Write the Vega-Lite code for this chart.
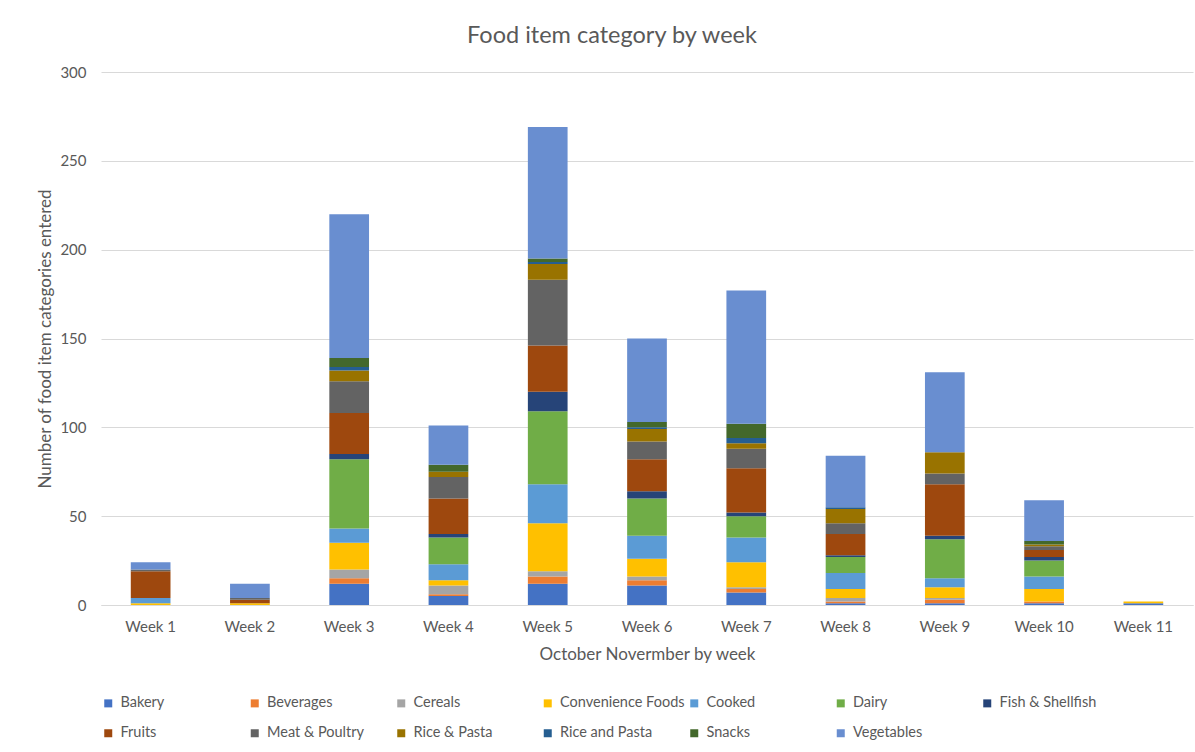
{
  "$schema": "https://vega.github.io/schema/vega-lite/v6.json",
  "autosize": {"type": "none"},
  "width": 1092,
  "height": 533,
  "padding": {"left": 101, "top": 72, "right": 2, "bottom": 147},
  "background": "white",
  "title": {
    "text": "Food item category by week",
    "font": "Lato",
    "fontSize": 23.5,
    "fontWeight": "normal",
    "color": "#595959",
    "anchor": "middle",
    "dx": -35,
    "offset": 18
  },
  "data": {
    "values": [
      {"week": "Week 1", "category": "Convenience Foods", "count": 1},
      {"week": "Week 1", "category": "Cooked", "count": 3},
      {"week": "Week 1", "category": "Fruits", "count": 15},
      {"week": "Week 1", "category": "Meat & Poultry", "count": 1},
      {"week": "Week 1", "category": "Vegetables", "count": 4},

      {"week": "Week 2", "category": "Convenience Foods", "count": 1},
      {"week": "Week 2", "category": "Fruits", "count": 2},
      {"week": "Week 2", "category": "Meat & Poultry", "count": 1},
      {"week": "Week 2", "category": "Vegetables", "count": 8},

      {"week": "Week 3", "category": "Bakery", "count": 12},
      {"week": "Week 3", "category": "Beverages", "count": 3},
      {"week": "Week 3", "category": "Cereals", "count": 5},
      {"week": "Week 3", "category": "Convenience Foods", "count": 15},
      {"week": "Week 3", "category": "Cooked", "count": 8},
      {"week": "Week 3", "category": "Dairy", "count": 39},
      {"week": "Week 3", "category": "Fish & Shellfish", "count": 3},
      {"week": "Week 3", "category": "Fruits", "count": 23},
      {"week": "Week 3", "category": "Meat & Poultry", "count": 18},
      {"week": "Week 3", "category": "Rice & Pasta", "count": 6},
      {"week": "Week 3", "category": "Rice and Pasta", "count": 2},
      {"week": "Week 3", "category": "Snacks", "count": 5},
      {"week": "Week 3", "category": "Vegetables", "count": 81},

      {"week": "Week 4", "category": "Bakery", "count": 5},
      {"week": "Week 4", "category": "Beverages", "count": 1},
      {"week": "Week 4", "category": "Cereals", "count": 5},
      {"week": "Week 4", "category": "Convenience Foods", "count": 3},
      {"week": "Week 4", "category": "Cooked", "count": 9},
      {"week": "Week 4", "category": "Dairy", "count": 15},
      {"week": "Week 4", "category": "Fish & Shellfish", "count": 2},
      {"week": "Week 4", "category": "Fruits", "count": 20},
      {"week": "Week 4", "category": "Meat & Poultry", "count": 12},
      {"week": "Week 4", "category": "Rice & Pasta", "count": 3},
      {"week": "Week 4", "category": "Snacks", "count": 4},
      {"week": "Week 4", "category": "Vegetables", "count": 22},

      {"week": "Week 5", "category": "Bakery", "count": 12},
      {"week": "Week 5", "category": "Beverages", "count": 4},
      {"week": "Week 5", "category": "Cereals", "count": 3},
      {"week": "Week 5", "category": "Convenience Foods", "count": 27},
      {"week": "Week 5", "category": "Cooked", "count": 22},
      {"week": "Week 5", "category": "Dairy", "count": 41},
      {"week": "Week 5", "category": "Fish & Shellfish", "count": 11},
      {"week": "Week 5", "category": "Fruits", "count": 26},
      {"week": "Week 5", "category": "Meat & Poultry", "count": 37},
      {"week": "Week 5", "category": "Rice & Pasta", "count": 9},
      {"week": "Week 5", "category": "Rice and Pasta", "count": 1},
      {"week": "Week 5", "category": "Snacks", "count": 2},
      {"week": "Week 5", "category": "Vegetables", "count": 74},

      {"week": "Week 6", "category": "Bakery", "count": 11},
      {"week": "Week 6", "category": "Beverages", "count": 3},
      {"week": "Week 6", "category": "Cereals", "count": 2},
      {"week": "Week 6", "category": "Convenience Foods", "count": 10},
      {"week": "Week 6", "category": "Cooked", "count": 13},
      {"week": "Week 6", "category": "Dairy", "count": 21},
      {"week": "Week 6", "category": "Fish & Shellfish", "count": 4},
      {"week": "Week 6", "category": "Fruits", "count": 18},
      {"week": "Week 6", "category": "Meat & Poultry", "count": 10},
      {"week": "Week 6", "category": "Rice & Pasta", "count": 7},
      {"week": "Week 6", "category": "Rice and Pasta", "count": 1},
      {"week": "Week 6", "category": "Snacks", "count": 3},
      {"week": "Week 6", "category": "Vegetables", "count": 47},

      {"week": "Week 7", "category": "Bakery", "count": 7},
      {"week": "Week 7", "category": "Beverages", "count": 2},
      {"week": "Week 7", "category": "Cereals", "count": 1},
      {"week": "Week 7", "category": "Convenience Foods", "count": 14},
      {"week": "Week 7", "category": "Cooked", "count": 14},
      {"week": "Week 7", "category": "Dairy", "count": 12},
      {"week": "Week 7", "category": "Fish & Shellfish", "count": 2},
      {"week": "Week 7", "category": "Fruits", "count": 25},
      {"week": "Week 7", "category": "Meat & Poultry", "count": 11},
      {"week": "Week 7", "category": "Rice & Pasta", "count": 3},
      {"week": "Week 7", "category": "Rice and Pasta", "count": 3},
      {"week": "Week 7", "category": "Snacks", "count": 8},
      {"week": "Week 7", "category": "Vegetables", "count": 75},

      {"week": "Week 8", "category": "Bakery", "count": 1},
      {"week": "Week 8", "category": "Beverages", "count": 1},
      {"week": "Week 8", "category": "Cereals", "count": 2},
      {"week": "Week 8", "category": "Convenience Foods", "count": 5},
      {"week": "Week 8", "category": "Cooked", "count": 9},
      {"week": "Week 8", "category": "Dairy", "count": 9},
      {"week": "Week 8", "category": "Fish & Shellfish", "count": 1},
      {"week": "Week 8", "category": "Fruits", "count": 12},
      {"week": "Week 8", "category": "Meat & Poultry", "count": 6},
      {"week": "Week 8", "category": "Rice & Pasta", "count": 8},
      {"week": "Week 8", "category": "Rice and Pasta", "count": 1},
      {"week": "Week 8", "category": "Vegetables", "count": 29},

      {"week": "Week 9", "category": "Bakery", "count": 1},
      {"week": "Week 9", "category": "Beverages", "count": 2},
      {"week": "Week 9", "category": "Cereals", "count": 1},
      {"week": "Week 9", "category": "Convenience Foods", "count": 6},
      {"week": "Week 9", "category": "Cooked", "count": 5},
      {"week": "Week 9", "category": "Dairy", "count": 22},
      {"week": "Week 9", "category": "Fish & Shellfish", "count": 2},
      {"week": "Week 9", "category": "Fruits", "count": 29},
      {"week": "Week 9", "category": "Meat & Poultry", "count": 6},
      {"week": "Week 9", "category": "Rice & Pasta", "count": 12},
      {"week": "Week 9", "category": "Vegetables", "count": 45},

      {"week": "Week 10", "category": "Bakery", "count": 1},
      {"week": "Week 10", "category": "Beverages", "count": 1},
      {"week": "Week 10", "category": "Convenience Foods", "count": 7},
      {"week": "Week 10", "category": "Cooked", "count": 7},
      {"week": "Week 10", "category": "Dairy", "count": 9},
      {"week": "Week 10", "category": "Fish & Shellfish", "count": 2},
      {"week": "Week 10", "category": "Fruits", "count": 4},
      {"week": "Week 10", "category": "Meat & Poultry", "count": 2},
      {"week": "Week 10", "category": "Rice & Pasta", "count": 1},
      {"week": "Week 10", "category": "Snacks", "count": 2},
      {"week": "Week 10", "category": "Vegetables", "count": 23},

      {"week": "Week 11", "category": "Bakery", "count": 1},
      {"week": "Week 11", "category": "Convenience Foods", "count": 1}
    ]
  },
  "mark": {"type": "bar"},
  "encoding": {
    "x": {
      "field": "week",
      "type": "nominal",
      "sort": ["Week 1", "Week 2", "Week 3", "Week 4", "Week 5", "Week 6", "Week 7", "Week 8", "Week 9", "Week 10", "Week 11"],
      "scale": {"paddingInner": 0.6, "paddingOuter": 0.3},
      "title": "October Novermber by week",
      "axis": {
        "labelAngle": 0,
        "domain": true,
        "domainColor": "#d9d9d9",
        "domainWidth": 1,
        "ticks": false,
        "grid": false,
        "labelPadding": 14,
        "titlePadding": 12
      }
    },
    "y": {
      "field": "count",
      "type": "quantitative",
      "stack": "zero",
      "scale": {"domain": [0, 300], "nice": false},
      "title": "Number of food item categories entered",
      "axis": {
        "values": [0, 50, 100, 150, 200, 250, 300],
        "domain": false,
        "ticks": false,
        "grid": true,
        "gridColor": "#d9d9d9",
        "gridWidth": 1,
        "labelPadding": 15,
        "titlePadding": 5
      }
    },
    "color": {
      "field": "category",
      "type": "nominal",
      "scale": {
        "domain": ["Bakery", "Beverages", "Cereals", "Convenience Foods", "Cooked", "Dairy", "Fish & Shellfish", "Fruits", "Meat & Poultry", "Rice & Pasta", "Rice and Pasta", "Snacks", "Vegetables"],
        "range": ["#4472C4", "#ED7D31", "#A5A5A5", "#FFC000", "#5B9BD5", "#70AD47", "#264478", "#9E480E", "#636363", "#997300", "#255E91", "#43682B", "#698ED0"]
      },
      "legend": {
        "title": null,
        "orient": "none",
        "legendX": 0,
        "legendY": 624,
        "direction": "horizontal",
        "columns": 7,
        "gridAlign": "all",
        "columnPadding": 1.5,
        "rowPadding": 15,
        "padding": 0,
        "symbolType": "square",
        "symbolSize": 64,
        "symbolStrokeWidth": 0,
        "labelOffset": 5,
        "labelLimit": 300
      }
    },
    "order": {"field": "category", "sort": "ascending"}
  },
  "config": {
    "view": {"stroke": null},
    "axis": {
      "labelFont": "Lato",
      "titleFont": "Lato",
      "labelFontSize": 15,
      "titleFontSize": 17,
      "titleFontWeight": "normal",
      "labelColor": "#595959",
      "titleColor": "#595959"
    },
    "legend": {
      "labelFont": "Lato",
      "labelFontSize": 14.5,
      "labelColor": "#595959"
    }
  }
}
